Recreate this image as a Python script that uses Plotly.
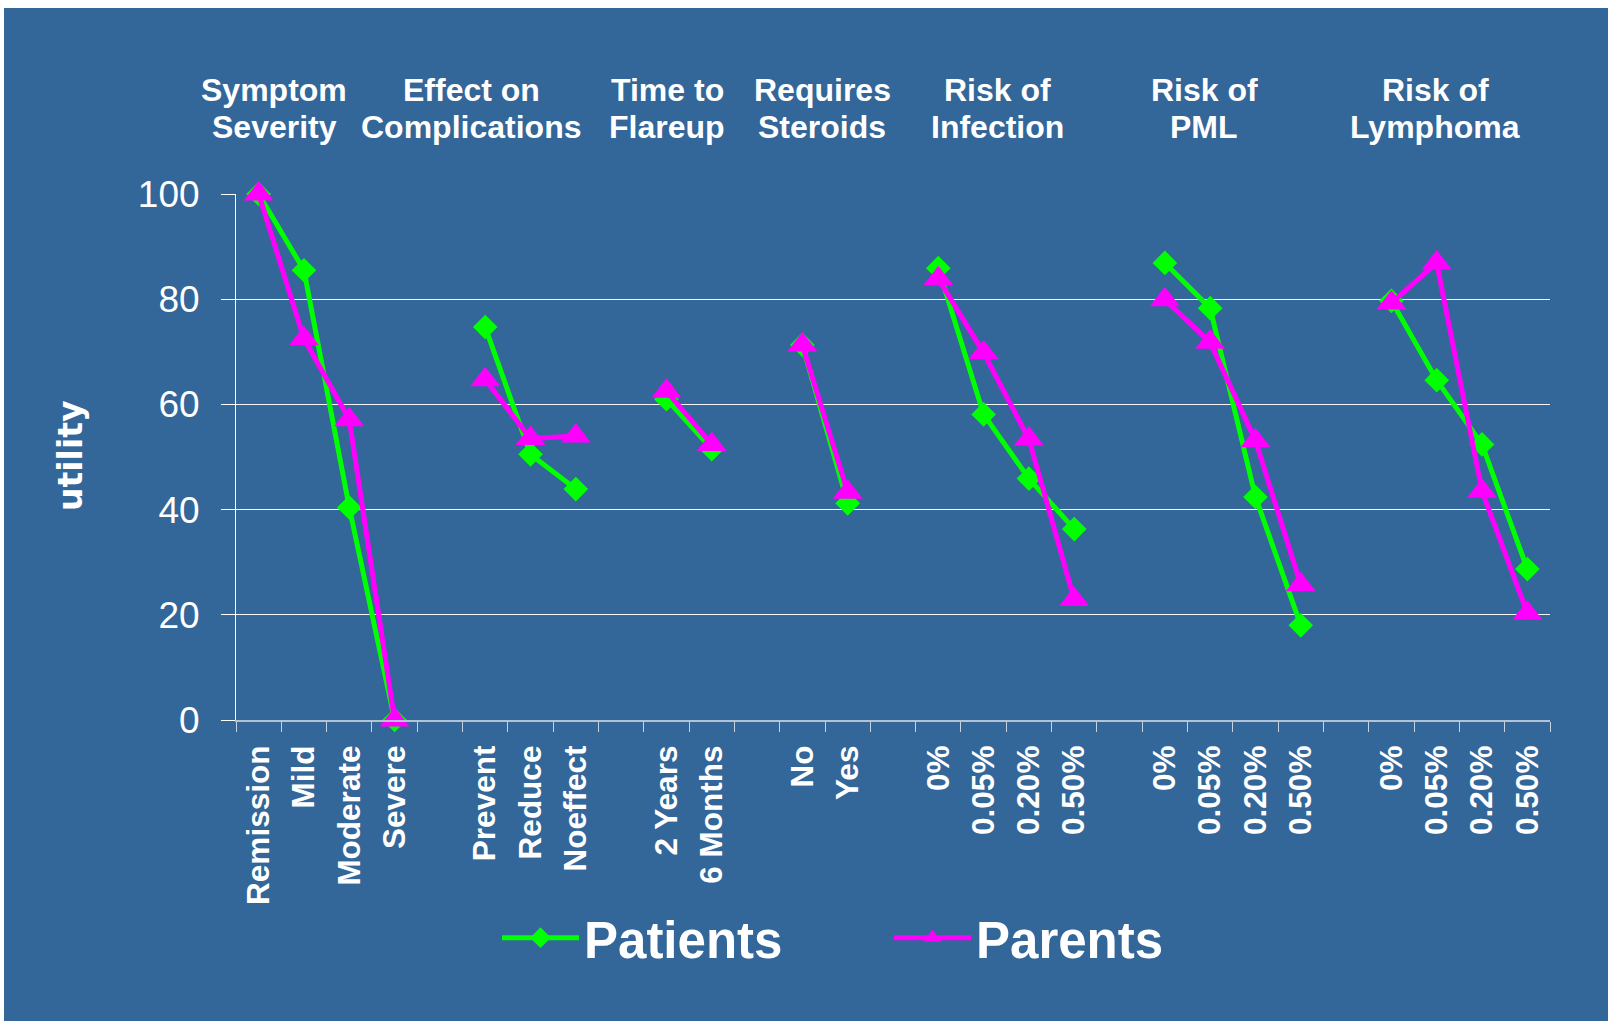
import plotly.graph_objects as go

# ---------------- data ----------------
categories = ["Remission", "Mild", "Moderate", "Severe", "",
              "Prevent", "Reduce", "Noeffect", "",
              "2 Years", "6 Months", "",
              "No", "Yes", "",
              "0%", "0.05%", "0.20%", "0.50%", "",
              "0%", "0.05%", "0.20%", "0.50%", "",
              "0%", "0.05%", "0.20%", "0.50%"]

patients = [100, 85.5, 40.4, 0, None,
            74.7, 50.5, 43.9, None,
            61.0, 51.5, None,
            71.3, 41.2, None,
            85.9, 58.1, 45.9, 36.3, None,
            86.9, 78.3, 42.4, 18.0, None,
            79.7, 64.6, 52.4, 28.7]

parents = [100, 72.5, 57.1, 0, None,
           64.7, 53.5, 54.0, None,
           62.5, 52.4, None,
           71.3, 43.3, None,
           83.9, 69.8, 53.4, 22.9, None,
           79.9, 71.8, 53.1, 25.7, None,
           79.3, 86.9, 43.5, 20.3]

group_titles_line1 = ["Symptom", "Effect on", "Time to", "Requires", "Risk of", "Risk of", "Risk of"]
group_titles_line2 = ["Severity", "Complications", "Flareup", "Steroids", "Infection", "PML", "Lymphoma"]

y_title = "utility"
series_names = ["Patients", "Parents"]

# ---------------- layout constants ----------------
W, H = 1621, 1024
ML, MR, MT, MB = 236, 71, 194, 304
PW = W - ML - MR
PH = H - MT - MB
BLUE = "#336699"
WHITE = "#FFFFFF"
FONT = "Liberation Sans, Arial, sans-serif"


def px(xp):
    return (xp - ML) / PW


def py(yp):
    return (MT + PH - yp) / PH


x_idx = list(range(len(categories)))
boundaries = [i - 0.5 for i in range(len(categories) + 1)]

fig = go.Figure()
fig.add_trace(go.Scatter(
    x=x_idx, y=patients, name=series_names[0], mode="lines+markers",
    line=dict(color="#00FF00", width=5),
    marker=dict(symbol="diamond", size=19, color="#00FF00", line=dict(width=0)),
    connectgaps=False, cliponaxis=False, legend="legend", showlegend=True))
fig.add_trace(go.Scatter(
    x=x_idx, y=parents, name=series_names[1], mode="lines+markers",
    line=dict(color="#FF00FF", width=5),
    marker=dict(symbol="triangle-up", size=26, color="#FF00FF", line=dict(width=0)),
    connectgaps=False, cliponaxis=False, legend="legend2", showlegend=True))

# blue panel with thin white frame
shapes = [dict(type="rect", xref="paper", yref="paper",
               x0=px(4), x1=px(1608), y0=py(1021), y1=py(8),
               fillcolor=BLUE, line=dict(width=0), layer="below")]

title_x = [274, 471, 667, 822, 997, 1204, 1435]
title_font = dict(family=FONT, size=32, color=WHITE, weight="bold")
annotations = []
for l1, l2, xp in zip(group_titles_line1, group_titles_line2, title_x):
    annotations.append(dict(text=l1, xref="paper", yref="paper", x=px(xp), y=py(90),
                            xanchor="center", yanchor="middle", showarrow=False,
                            font=title_font))
    annotations.append(dict(text=l2, xref="paper", yref="paper", x=px(xp), y=py(127),
                            xanchor="center", yanchor="middle", showarrow=False,
                            font=title_font))
annotations.append(dict(text=y_title, xref="paper", yref="paper", x=px(70), y=py(456),
                        xanchor="center", yanchor="middle", showarrow=False, textangle=-90,
                        font=dict(family="DejaVu Sans", size=33, color=WHITE, weight="bold")))

legend_font = dict(family=FONT, size=51, color=WHITE, weight="bold")

fig.update_layout(
    width=W, height=H, showlegend=True,
    margin=dict(l=ML, r=MR, t=MT, b=MB, autoexpand=False),
    paper_bgcolor=WHITE, plot_bgcolor="rgba(0,0,0,0)",
    shapes=shapes, annotations=annotations,
    legend=dict(x=px(497), y=py(938), xanchor="left", yanchor="middle",
                orientation="h", font=legend_font, itemwidth=77,
                bgcolor="rgba(0,0,0,0)"),
    legend2=dict(x=px(889), y=py(938), xanchor="left", yanchor="middle",
                 orientation="h", font=legend_font, itemwidth=77,
                 bgcolor="rgba(0,0,0,0)"),
    xaxis=dict(range=[-0.5, len(categories) - 0.5], tickmode="array",
               tickvals=x_idx, ticktext=categories, tickangle=-90, ticks="",
               tickfont=dict(family=FONT, size=31.5, color=WHITE, weight="bold"),
               showline=True, linecolor="#B4C2D6", linewidth=2,
               showgrid=False, zeroline=False, ticklabelstandoff=11,
               minor=dict(tickmode="array", tickvals=boundaries, ticks="outside",
                          ticklen=10, tickcolor="#C8D2E0", tickwidth=1, showgrid=False)),
    yaxis=dict(range=[0, 100], tickmode="linear", tick0=0, dtick=20,
               ticks="outside", ticklen=14, tickcolor=WHITE, tickwidth=1,
               tickfont=dict(family=FONT, size=37, color=WHITE),
               showgrid=True, gridcolor="#F2F4F8", gridwidth=1,
               showline=True, linecolor=WHITE, linewidth=1,
               zeroline=False, ticklabelstandoff=14),
)

fig.write_html("out.html", config={"displayModeBar": False},
               post_script="document.body.style.margin='0px';")
